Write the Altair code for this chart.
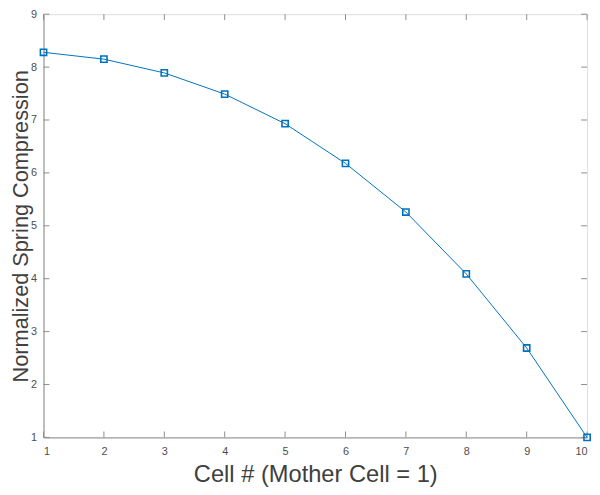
import altair as alt
import pandas as pd

cells = [1, 2, 3, 4, 5, 6, 7, 8, 9, 10]
compression = [8.28, 8.15, 7.89, 7.49, 6.93, 6.18, 5.26, 4.09, 2.69, 1.0]
x_ticks = [1, 2, 3, 4, 5, 6, 7, 8, 9, 10]
y_ticks = [1, 2, 3, 4, 5, 6, 7, 8, 9]

W, H = 551, 429
BLUE = "#0072BD"
AX = "#8c8c8c"
TXT = "#4d4d4d"

df = pd.DataFrame({"cell": cells, "comp": compression})
xt = pd.DataFrame({"t": x_ticks})
yt = pd.DataFrame({"t": y_ticks})

xs = alt.Scale(domain=[1, 10], nice=False, zero=False)
ys = alt.Scale(domain=[1, 9], nice=False, zero=False)

xaxis = alt.Axis(values=x_ticks, format="d", ticks=False, grid=False, domainColor=AX,
                 labelColor=TXT, labelFont="Liberation Sans", labelFontSize=11,
                 labelPadding=8, title="Cell # (Mother Cell = 1)",
                 titleFont="Liberation Sans", titleFontSize=24, titleFontWeight="normal",
                 titleColor="#404040", titleBaseline="alphabetic", titleAlign="center",
                 titleX=W / 2, titleY=45)
yaxis = alt.Axis(values=y_ticks, format="d", ticks=False, grid=False, domainColor=AX,
                 labelColor=TXT, labelFont="Liberation Sans", labelFontSize=11,
                 labelPadding=7, title="Normalized Spring Compression",
                 titleFont="Liberation Sans", titleFontSize=22, titleFontWeight="normal",
                 titleColor="#404040", titleBaseline="alphabetic", titleAlign="center",
                 titleAngle=270, titleX=-16, titleY=H / 2)

line = alt.Chart(df).mark_line(color=BLUE, strokeWidth=1).encode(
    x=alt.X("cell:Q", scale=xs, axis=xaxis),
    y=alt.Y("comp:Q", scale=ys, axis=yaxis),
)
pts = alt.Chart(df).mark_point(shape="square", filled=False, color=BLUE,
                               size=40, strokeWidth=1.6, opacity=1).encode(
    x=alt.X("cell:Q", scale=xs), y=alt.Y("comp:Q", scale=ys))

TL = 6
xb = alt.Chart(xt).mark_rule(color=AX, strokeWidth=1).encode(
    x=alt.X("t:Q", scale=xs), y=alt.value(H), y2=alt.value(H - TL))
xtop = alt.Chart(xt).mark_rule(color=AX, strokeWidth=1).encode(
    x=alt.X("t:Q", scale=xs), y=alt.value(0), y2=alt.value(TL))
yl = alt.Chart(yt).mark_rule(color=AX, strokeWidth=1).encode(
    y=alt.Y("t:Q", scale=ys), x=alt.value(0), x2=alt.value(TL))
yr = alt.Chart(yt).mark_rule(color=AX, strokeWidth=1).encode(
    y=alt.Y("t:Q", scale=ys), x=alt.value(W), x2=alt.value(W - TL))

chart = alt.layer(xb, xtop, yl, yr, line, pts).properties(
    width=W, height=H,
    autosize=alt.AutoSizeParams(type="none"),
    padding={"left": 36, "top": 3, "right": 5, "bottom": 47},
).configure_view(stroke=AX, strokeWidth=1).configure(background="white")

chart.save("out.html", embed_options={"renderer": "svg", "actions": False})
